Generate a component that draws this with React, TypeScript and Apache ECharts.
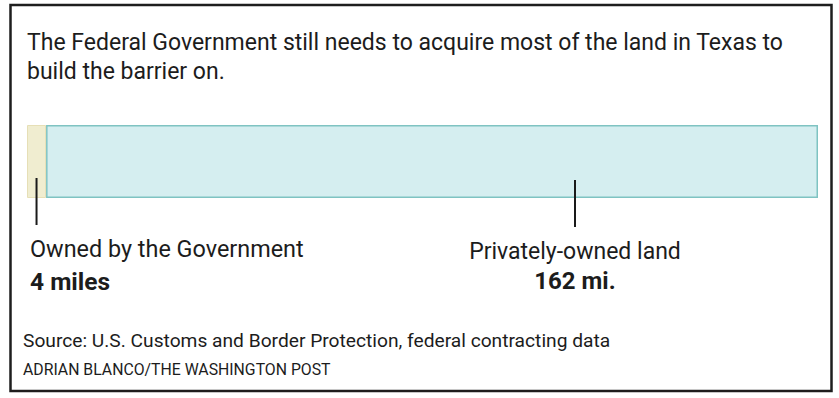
import React, { useEffect, useRef } from "react";
import * as echarts from "echarts";

const categories = ["Texas"];
const segmentNames = ["Owned by the Government", "Privately-owned land"];
const segmentValues = [4, 162];
const segmentValueLabels = ["4 miles", "162 mi."];
const labelPositions = [2, 115];
const titleLines = [
  "The Federal Government still needs to acquire most of the land in Texas to",
  "build the barrier on.",
];
const sourceText = "Source: U.S. Customs and Border Protection, federal contracting data";
const creditText = "ADRIAN BLANCO/THE WASHINGTON POST";

const FONT = "Roboto, 'Noto Sans', sans-serif";
const TEXT = "#1c1c1c";

export default function App() {
  const ref = useRef<HTMLDivElement>(null);
  useEffect(() => {
    if (!ref.current) return;
    const chart = echarts.init(ref.current, undefined, { renderer: "svg" });
    const total = segmentValues.reduce((a, b) => a + b, 0);
    chart.setOption({
      animation: false,
      backgroundColor: "#ffffff",
      grid: { left: 27, right: 21, top: 125, height: 73, containLabel: false },
      xAxis: { type: "value", min: 0, max: total, show: false },
      yAxis: { type: "category", data: categories, show: false },
      series: [
        {
          name: segmentNames[0],
          type: "bar",
          stack: "land",
          barWidth: "100%",
          data: [segmentValues[0]],
          itemStyle: { color: "#f0edd0", borderColor: "#e6dfb6", borderWidth: 1 },
        },
        {
          name: segmentNames[1],
          type: "bar",
          stack: "land",
          barWidth: "100%",
          data: [segmentValues[1]],
          itemStyle: { color: "#d5eef0", borderColor: "#7fc3c2", borderWidth: 1.5 },
        },
      ],
    });
    const px = labelPositions.map((v) => chart.convertToPixel({ xAxisIndex: 0 }, v) as number);
    const elements: any[] = [
      {
        type: "rect",
        shape: { x: 10.5, y: 5, width: 821, height: 386 },
        style: { fill: "none", stroke: "#1e1e1e", lineWidth: 2.5 },
        silent: true,
        z: 100,
      },
    ];
    titleLines.forEach((t, i) => {
      elements.push({
        type: "text",
        x: 27,
        y: 42 + i * 29,
        z: 100,
        style: { text: t, fill: TEXT, font: `23px ${FONT}`, verticalAlign: "middle", align: "left" },
      });
    });
    // ticks
    elements.push({
      type: "line",
      z: 100,
      shape: { x1: px[0], y1: 178, x2: px[0], y2: 225 },
      style: { stroke: "#1a1a1a", lineWidth: 2 },
    });
    elements.push({
      type: "line",
      z: 100,
      shape: { x1: px[1], y1: 180, x2: px[1], y2: 227 },
      style: { stroke: "#1a1a1a", lineWidth: 2 },
    });
    elements.push({
      type: "text",
      x: 30,
      y: 249,
      z: 100,
      style: { text: segmentNames[0], fill: TEXT, font: `23.4px ${FONT}`, verticalAlign: "middle", align: "left" },
    });
    elements.push({
      type: "text",
      x: 30,
      y: 281,
      z: 100,
      style: { text: segmentValueLabels[0], fill: TEXT, font: `bold 24.5px ${FONT}`, verticalAlign: "middle", align: "left" },
    });
    elements.push({
      type: "text",
      x: px[1],
      y: 251,
      z: 100,
      style: { text: segmentNames[1], fill: TEXT, font: `23px ${FONT}`, verticalAlign: "middle", align: "center" },
    });
    elements.push({
      type: "text",
      x: px[1],
      y: 281,
      z: 100,
      style: { text: segmentValueLabels[1], fill: TEXT, font: `bold 24px ${FONT}`, verticalAlign: "middle", align: "center" },
    });
    elements.push({
      type: "text",
      x: 23,
      y: 340,
      z: 100,
      style: { text: sourceText, fill: TEXT, font: `19.2px ${FONT}`, verticalAlign: "middle", align: "left" },
    });
    elements.push({
      type: "text",
      x: 23,
      y: 369,
      z: 100,
      style: { text: creditText, fill: TEXT, font: `15.8px ${FONT}`, verticalAlign: "middle", align: "left" },
    });
    chart.setOption({ graphic: { elements } });
    return () => chart.dispose();
  }, []);
  return (
    <div
      ref={ref}
      style={{ position: "fixed", left: 0, top: 0, width: 839, height: 398 }}
    />
  );
}
